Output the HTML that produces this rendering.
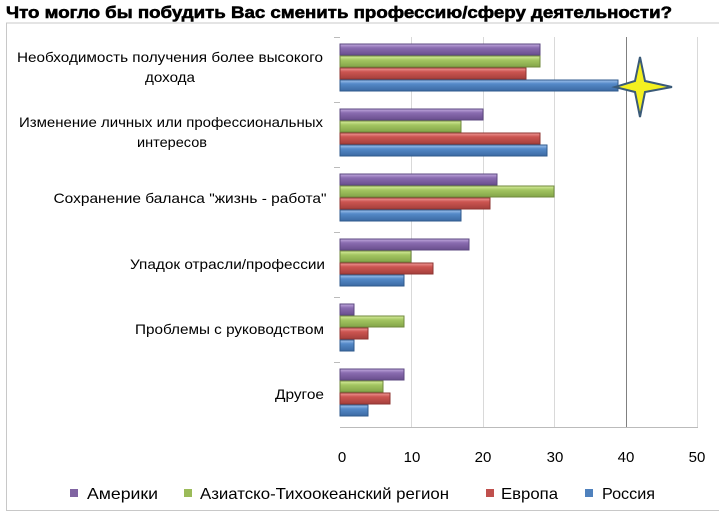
<!DOCTYPE html>
<html><head><meta charset="utf-8"><style>
body{margin:0;background:#fff;width:719px;height:521px;overflow:hidden}
</style></head><body>
<svg width="719" height="521" xmlns="http://www.w3.org/2000/svg" font-family="Liberation Sans, DejaVu Sans, sans-serif">
<defs>
<linearGradient id="gp" x1="0" y1="0" x2="0" y2="1"><stop offset="0" stop-color="#c3ace0"/><stop offset="0.35" stop-color="#8a6cb0"/><stop offset="1" stop-color="#6a4f8e"/></linearGradient>
<linearGradient id="gg" x1="0" y1="0" x2="0" y2="1"><stop offset="0" stop-color="#d9ee9e"/><stop offset="0.35" stop-color="#a4c662"/><stop offset="1" stop-color="#83a548"/></linearGradient>
<linearGradient id="gr" x1="0" y1="0" x2="0" y2="1"><stop offset="0" stop-color="#f09a97"/><stop offset="0.35" stop-color="#cc5551"/><stop offset="1" stop-color="#a53f3c"/></linearGradient>
<linearGradient id="gb" x1="0" y1="0" x2="0" y2="1"><stop offset="0" stop-color="#a3c4ee"/><stop offset="0.35" stop-color="#5489c8"/><stop offset="1" stop-color="#3c6aa3"/></linearGradient>
</defs>
<text x="6" y="18" font-size="17" font-weight="900" fill="#000" stroke="#000" stroke-width="0.6" textLength="666" lengthAdjust="spacingAndGlyphs">Что могло бы побудить Вас сменить профессию/сферу деятельности?</text>
<line x1="6" y1="23" x2="719" y2="23" stroke="#c8c8c8"/>
<line x1="6.5" y1="23" x2="6.5" y2="510" stroke="#c8c8c8"/>
<line x1="6" y1="510.5" x2="719" y2="510.5" stroke="#c8c8c8"/>
<g stroke="#d9d9d9">
<line x1="411.5" y1="37" x2="411.5" y2="427"/><line x1="483.5" y1="37" x2="483.5" y2="427"/>
<line x1="554.5" y1="37" x2="554.5" y2="427"/><line x1="697.5" y1="37" x2="697.5" y2="427"/>
</g>
<line x1="626.5" y1="37" x2="626.5" y2="427" stroke="#808080"/>
<line x1="340" y1="427.5" x2="698" y2="427.5" stroke="#bbb"/>
<g stroke="#bbb">
<line x1="334" y1="37.5" x2="340" y2="37.5"/><line x1="334" y1="102.5" x2="340" y2="102.5"/><line x1="334" y1="167.5" x2="340" y2="167.5"/><line x1="334" y1="232.5" x2="340" y2="232.5"/><line x1="334" y1="297.5" x2="340" y2="297.5"/><line x1="334" y1="362.5" x2="340" y2="362.5"/>
</g>
<g stroke-width="1">
<rect x="340" y="44" width="200" height="11" fill="url(#gp)" stroke="#5d4880"/>
<rect x="340" y="56" width="200" height="11" fill="url(#gg)" stroke="#708a3e"/>
<rect x="340" y="68" width="186" height="11" fill="url(#gr)" stroke="#8e3532"/>
<rect x="340" y="80" width="278" height="11" fill="url(#gb)" stroke="#2f5a8c"/>

<rect x="340" y="109" width="143" height="11" fill="url(#gp)" stroke="#5d4880"/>
<rect x="340" y="121" width="121" height="11" fill="url(#gg)" stroke="#708a3e"/>
<rect x="340" y="133" width="200" height="11" fill="url(#gr)" stroke="#8e3532"/>
<rect x="340" y="145" width="207" height="11" fill="url(#gb)" stroke="#2f5a8c"/>

<rect x="340" y="174" width="157" height="11" fill="url(#gp)" stroke="#5d4880"/>
<rect x="340" y="186" width="214" height="11" fill="url(#gg)" stroke="#708a3e"/>
<rect x="340" y="198" width="150" height="11" fill="url(#gr)" stroke="#8e3532"/>
<rect x="340" y="210" width="121" height="11" fill="url(#gb)" stroke="#2f5a8c"/>

<rect x="340" y="239" width="129" height="11" fill="url(#gp)" stroke="#5d4880"/>
<rect x="340" y="251" width="71" height="11" fill="url(#gg)" stroke="#708a3e"/>
<rect x="340" y="263" width="93" height="11" fill="url(#gr)" stroke="#8e3532"/>
<rect x="340" y="275" width="64" height="11" fill="url(#gb)" stroke="#2f5a8c"/>

<rect x="340" y="304" width="14" height="11" fill="url(#gp)" stroke="#5d4880"/>
<rect x="340" y="316" width="64" height="11" fill="url(#gg)" stroke="#708a3e"/>
<rect x="340" y="328" width="28" height="11" fill="url(#gr)" stroke="#8e3532"/>
<rect x="340" y="340" width="14" height="11" fill="url(#gb)" stroke="#2f5a8c"/>

<rect x="340" y="369" width="64" height="11" fill="url(#gp)" stroke="#5d4880"/>
<rect x="340" y="381" width="43" height="11" fill="url(#gg)" stroke="#708a3e"/>
<rect x="340" y="393" width="50" height="11" fill="url(#gr)" stroke="#8e3532"/>
<rect x="340" y="405" width="28" height="11" fill="url(#gb)" stroke="#2f5a8c"/>
</g>
<polygon points="640,57 645,81 672,87 645,92 640,117 635,92 615,87 635,81" fill="#f4f020" stroke="#3a5a78" stroke-width="2"/>
<g font-size="14" fill="#000" text-anchor="middle">
<text x="170" y="62" textLength="306" lengthAdjust="spacingAndGlyphs">Необходимость получения более высокого</text>
<text x="170" y="82" textLength="50" lengthAdjust="spacingAndGlyphs">дохода</text>
<text x="171" y="127" textLength="304" lengthAdjust="spacingAndGlyphs">Изменение личных или профессиональных</text>
<text x="172" y="147" textLength="70" lengthAdjust="spacingAndGlyphs">интересов</text>
<text x="190" y="203" textLength="273" lengthAdjust="spacingAndGlyphs">Сохранение баланса "жизнь - работа"</text>
<text x="227.5" y="269" textLength="195" lengthAdjust="spacingAndGlyphs">Упадок отрасли/профессии</text>
<text x="229.5" y="334" textLength="189" lengthAdjust="spacingAndGlyphs">Проблемы с руководством</text>
<text x="299.5" y="399" textLength="49" lengthAdjust="spacingAndGlyphs">Другое</text>
</g>
<g font-size="15" fill="#000" text-anchor="middle">
<text x="342" y="462">0</text><text x="412" y="462">10</text><text x="483" y="462">20</text><text x="555" y="462">30</text><text x="626" y="462">40</text><text x="697" y="462">50</text>
</g>
<g font-size="16" fill="#000">
<rect x="70" y="489" width="8" height="8" fill="#8064a2"/><text x="87" y="499" textLength="71" lengthAdjust="spacingAndGlyphs">Америки</text>
<rect x="184" y="489" width="8" height="8" fill="#9bbb59"/><text x="200" y="499" textLength="249" lengthAdjust="spacingAndGlyphs">Азиатско-Тихоокеанский регион</text>
<rect x="486" y="489" width="8" height="8" fill="#c0504d"/><text x="501" y="499" textLength="57" lengthAdjust="spacingAndGlyphs">Европа</text>
<rect x="585" y="489" width="8" height="8" fill="#4f81bd"/><text x="602" y="499" textLength="53" lengthAdjust="spacingAndGlyphs">Россия</text>
</g>
</svg>
</body></html>
